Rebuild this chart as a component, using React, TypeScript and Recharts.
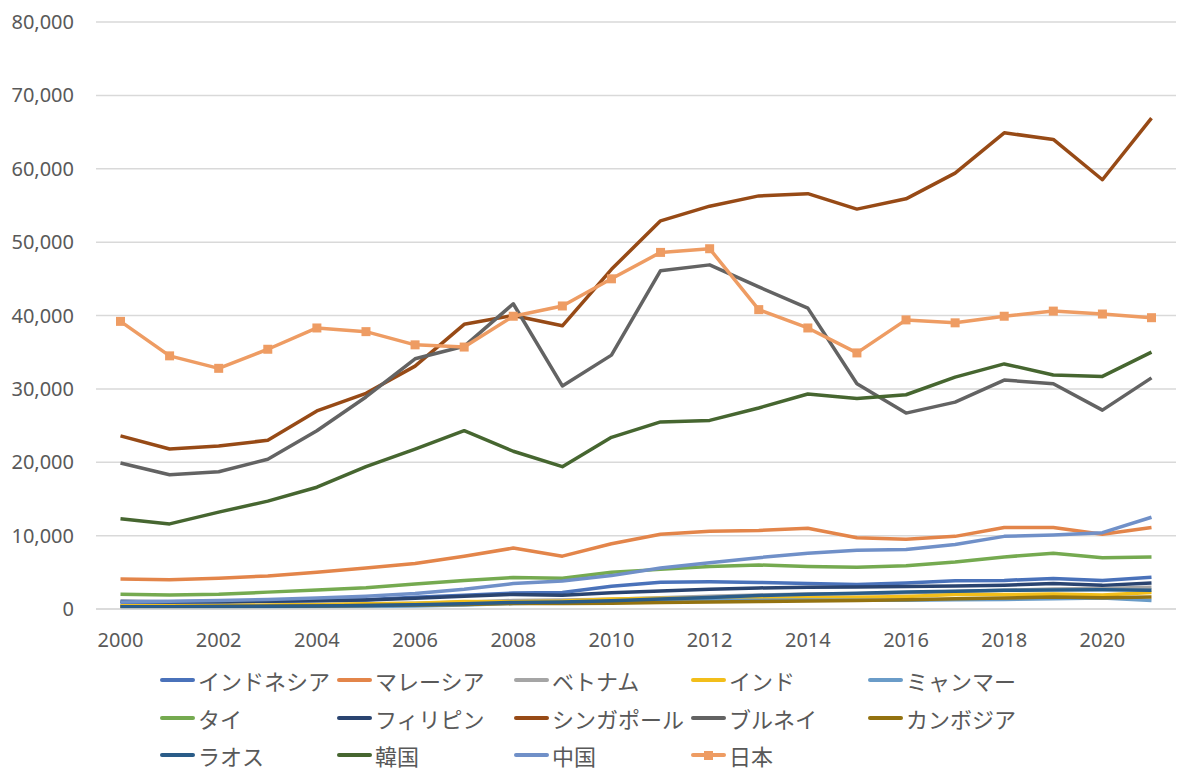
import { CartesianGrid, Line, LineChart, XAxis, YAxis } from 'recharts'

const years = [
  2000, 2001, 2002, 2003, 2004, 2005, 2006, 2007, 2008, 2009, 2010,
  2011, 2012, 2013, 2014, 2015, 2016, 2017, 2018, 2019, 2020, 2021,
]

const indonesia = [800, 750, 900, 1060, 1150, 1260, 1590, 1860, 2170, 2260, 3100, 3640, 3700, 3620, 3490, 3330, 3560, 3840, 3900, 4150, 3870, 4330]
const malaysia = [4100, 4000, 4200, 4500, 5000, 5600, 6200, 7200, 8300, 7200, 8900, 10200, 10600, 10700, 11000, 9700, 9500, 9900, 11100, 11100, 10200, 11100]
const vietnam = [390, 410, 440, 490, 560, 690, 800, 920, 1160, 1230, 1330, 1550, 1750, 1900, 2030, 2090, 2200, 2370, 2570, 2720, 2790, 2950]
const india = [440, 450, 470, 550, 620, 710, 800, 1020, 1000, 1100, 1350, 1450, 1430, 1440, 1560, 1590, 1710, 1960, 1970, 2050, 1900, 2250]
const myanmar = [200, 190, 210, 250, 290, 330, 400, 560, 750, 860, 980, 1180, 1180, 1180, 1220, 1200, 1200, 1250, 1300, 1400, 1500, 1150]
const thailand = [2000, 1900, 2000, 2300, 2600, 2900, 3400, 3900, 4300, 4200, 5000, 5400, 5800, 6000, 5800, 5700, 5900, 6400, 7100, 7600, 7000, 7100]
const philippines = [1070, 990, 1030, 1050, 1120, 1240, 1450, 1740, 1990, 1880, 2200, 2450, 2690, 2870, 2960, 3000, 3070, 3120, 3250, 3480, 3220, 3550]
const singapore = [23600, 21800, 22200, 23000, 27000, 29400, 33100, 38800, 40000, 38600, 46300, 52900, 54900, 56300, 56600, 54500, 55900, 59400, 64900, 64000, 58500, 66900]
const brunei = [19900, 18300, 18700, 20400, 24300, 28900, 34100, 35800, 41600, 30400, 34600, 46100, 46900, 43900, 41000, 30700, 26700, 28200, 31200, 30700, 27100, 31500]
const cambodia = [300, 310, 330, 360, 410, 470, 530, 630, 740, 740, 780, 880, 950, 1020, 1100, 1160, 1270, 1380, 1510, 1640, 1540, 1620]
const laos = [320, 320, 330, 370, 420, 470, 590, 710, 900, 950, 1140, 1370, 1580, 1840, 2000, 2140, 2310, 2420, 2540, 2600, 2630, 2550]
const korea = [12300, 11600, 13200, 14700, 16600, 19400, 21800, 24300, 21500, 19400, 23400, 25500, 25700, 27400, 29300, 28700, 29200, 31600, 33400, 31900, 31700, 35000]
const china = [960, 1050, 1150, 1290, 1510, 1750, 2100, 2700, 3470, 3830, 4550, 5600, 6300, 7000, 7600, 8000, 8100, 8800, 9900, 10100, 10400, 12500]
const japan = [39200, 34500, 32800, 35400, 38300, 37800, 36000, 35700, 39900, 41300, 45000, 48600, 49100, 40800, 38300, 34900, 39400, 39000, 39900, 40600, 40200, 39700]

const yTicks = [0, 10000, 20000, 30000, 40000, 50000, 60000, 70000, 80000]

const series = [
  { key: 'indonesia', name: 'インドネシア', values: indonesia, color: '#4A72BA' },
  { key: 'malaysia', name: 'マレーシア', values: malaysia, color: '#E3854A' },
  { key: 'vietnam', name: 'ベトナム', values: vietnam, color: '#A5A5A5' },
  { key: 'india', name: 'インド', values: india, color: '#F2BE1A' },
  { key: 'myanmar', name: 'ミャンマー', values: myanmar, color: '#6A9CC8' },
  { key: 'thailand', name: 'タイ', values: thailand, color: '#75AA50' },
  { key: 'philippines', name: 'フィリピン', values: philippines, color: '#2A4470' },
  { key: 'singapore', name: 'シンガポール', values: singapore, color: '#974A16' },
  { key: 'brunei', name: 'ブルネイ', values: brunei, color: '#636363' },
  { key: 'cambodia', name: 'カンボジア', values: cambodia, color: '#937210' },
  { key: 'laos', name: 'ラオス', values: laos, color: '#2A5C88' },
  { key: 'korea', name: '韓国', values: korea, color: '#466630' },
  { key: 'china', name: '中国', values: china, color: '#7090C8' },
  { key: 'japan', name: '日本', values: japan, color: '#EE9C63', marker: true },
]

const rows = years.map((year, i) => {
  const row: Record<string, number> = { year }
  series.forEach((s) => {
    row[s.key] = s.values[i]
  })
  return row
})

const tickStyle = { fontFamily: "'Noto Sans', sans-serif", fontSize: 20, fill: '#595959' }

const SquareDot = (props: any) => {
  const { cx, cy, key } = props
  if (cx == null || cy == null) return null
  return <rect key={key} x={cx - 4.5} y={cy - 4.5} width={9} height={9} fill="#EE9C63" />
}

export default function App() {
  return (
    <div
      style={{
        position: 'absolute',
        left: 0,
        top: 0,
        width: 1200,
        height: 783,
        background: '#fff',
      }}
    >
      <LineChart
        width={1200}
        height={660}
        data={rows}
        margin={{ top: 22, right: 24, left: 0, bottom: 11 }}
      >
        <CartesianGrid vertical={false} stroke="#D9D9D9" strokeWidth={1.5} />
        <XAxis
          dataKey="year"
          interval={1}
          height={40}
          tickLine={false}
          tickSize={0}
          tickMargin={24}
          axisLine={{ stroke: '#D9D9D9', strokeWidth: 1.5 }}
          padding={{ left: 24.5, right: 24.5 }}
          tick={tickStyle}
        />
        <YAxis
          width={96}
          domain={[0, 80000]}
          ticks={yTicks}
          axisLine={false}
          tickLine={false}
          tickSize={0}
          tickMargin={22}
          tick={tickStyle}
          tickFormatter={(v: number) => v.toLocaleString('en-US')}
        />
        {series.map((s) => (
          <Line
            key={s.key}
            dataKey={s.key}
            name={s.name}
            stroke={s.color}
            strokeWidth={3.5}
            strokeLinejoin="round"
            type="linear"
            dot={s.marker ? SquareDot : false}
            activeDot={false}
            isAnimationActive={false}
          />
        ))}
      </LineChart>
      <div
        style={{
          position: 'absolute',
          left: 0,
          top: 662,
          width: 1200,
          fontFamily: "'Noto Sans CJK JP', sans-serif",
          fontSize: 22,
          color: '#595959',
        }}
      >
        {series.map((s, i) => (
          <div
            key={s.key}
            style={{
              position: 'absolute',
              left: 160 + (i % 5) * 177,
              top: Math.floor(i / 5) * 37.5,
              display: 'flex',
              alignItems: 'center',
              gap: 3,
              whiteSpace: 'nowrap',
              lineHeight: '36px',
            }}
          >
            <span
              style={{
                position: 'relative',
                width: 35,
                height: 4,
                borderRadius: 2,
                background: s.color,
              }}
            >
              {s.marker && (
                <span
                  style={{
                    position: 'absolute',
                    left: 13,
                    top: -2.5,
                    width: 9,
                    height: 9,
                    background: s.color,
                  }}
                />
              )}
            </span>
            <span>{s.name}</span>
          </div>
        ))}
      </div>
    </div>
  )
}
